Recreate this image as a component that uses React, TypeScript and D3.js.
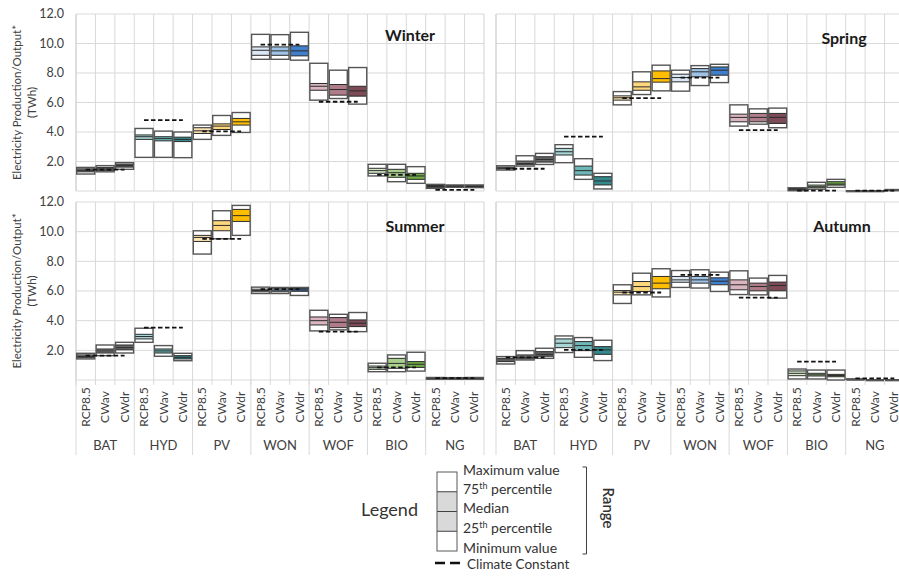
import React from 'react';
import * as d3 from 'd3';

const techs = ['BAT', 'HYD', 'PV', 'WON', 'WOF', 'BIO', 'NG'];
const scenarios = ['RCP8.5', 'CWav', 'CWdr'];
const yTicks = [0, 2, 4, 6, 8, 10, 12];

// each row: [min, 25th, median, 75th, max] in TWh, order tech x scenario
const winterStats = [
  [1.15, 1.3, 1.4, 1.5, 1.6], [1.3, 1.4, 1.5, 1.6, 1.72], [1.47, 1.62, 1.72, 1.82, 1.92],
  [2.28, 3.5, 3.68, 3.8, 4.24], [2.28, 3.4, 3.55, 3.68, 4.06], [2.26, 3.35, 3.5, 3.65, 4.0],
  [3.5, 3.9, 4.08, 4.29, 4.47], [3.77, 4.17, 4.4, 4.55, 5.12], [3.97, 4.47, 4.69, 4.92, 5.32],
  [8.93, 9.2, 9.54, 9.77, 10.62], [8.93, 9.2, 9.5, 9.77, 10.6], [8.87, 9.16, 9.5, 9.84, 10.76],
  [6.16, 6.83, 7.1, 7.29, 8.66], [6.27, 6.5, 6.88, 7.22, 8.19], [5.89, 6.43, 6.79, 7.1, 8.37],
  [1.02, 1.2, 1.38, 1.54, 1.81], [0.63, 0.93, 1.24, 1.47, 1.81], [0.52, 0.79, 1.02, 1.2, 1.65],
  [0.18, 0.25, 0.32, 0.38, 0.45], [0.25, 0.3, 0.33, 0.37, 0.41], [0.23, 0.28, 0.32, 0.36, 0.41],
];
const winterClimate = [1.45, 4.8, 4.04, 9.93, 6.05, 1.1, 0.07];

const springStats = [
  [1.42, 1.5, 1.55, 1.62, 1.71], [1.69, 1.78, 1.87, 2.03, 2.39], [1.8, 1.96, 2.14, 2.32, 2.55],
  [1.92, 2.44, 2.66, 2.89, 3.14], [0.79, 1.08, 1.38, 1.69, 2.19], [0.14, 0.41, 0.68, 0.97, 1.2],
  [5.84, 6.16, 6.32, 6.45, 6.74], [6.54, 6.83, 7.06, 7.4, 8.08], [6.79, 7.38, 7.62, 8.14, 8.53],
  [6.77, 7.4, 7.69, 7.92, 8.19], [7.15, 7.74, 8.08, 8.3, 8.5], [7.35, 7.85, 8.19, 8.41, 8.59],
  [4.4, 4.69, 4.99, 5.21, 5.84], [4.53, 4.69, 4.99, 5.26, 5.57], [4.29, 4.58, 4.99, 5.26, 5.62],
  [0.02, 0.08, 0.12, 0.17, 0.22], [0.12, 0.22, 0.29, 0.4, 0.59], [0.25, 0.4, 0.47, 0.63, 0.79],
  [0, 0, 0, 0, 0.01], [0, 0, 0, 0, 0.01], [0.02, 0.04, 0.06, 0.08, 0.1],
];
const springClimate = [1.51, 3.68, 6.29, 7.69, 4.13, 0.02, 0.02];

const summerStats = [
  [1.42, 1.5, 1.58, 1.69, 1.8], [1.64, 1.82, 1.96, 2.09, 2.36], [1.82, 2.03, 2.18, 2.36, 2.54],
  [2.54, 2.77, 2.93, 3.08, 3.49], [1.6, 1.82, 1.96, 2.09, 2.32], [1.3, 1.42, 1.53, 1.64, 1.8],
  [8.49, 9.34, 9.61, 9.75, 10.06], [9.52, 10.06, 10.42, 10.74, 11.41], [9.75, 10.69, 11.08, 11.5, 11.77],
  [5.83, 5.95, 6.03, 6.12, 6.26], [5.83, 5.95, 6.05, 6.15, 6.24], [5.7, 5.98, 6.07, 6.16, 6.24],
  [3.31, 3.71, 4.0, 4.25, 4.7], [3.38, 3.53, 3.89, 4.21, 4.43], [3.26, 3.6, 3.83, 4.05, 4.55],
  [0.56, 0.72, 0.83, 0.94, 1.13], [0.56, 0.79, 1.12, 1.46, 1.69], [0.6, 0.85, 1.06, 1.24, 1.87],
  [0.05, 0.1, 0.13, 0.15, 0.17], [0.05, 0.09, 0.12, 0.14, 0.16], [0.05, 0.1, 0.13, 0.15, 0.17],
];
const summerClimate = [1.64, 3.53, 9.52, 6.12, 3.26, 0.85, 0.12];

const autumnStats = [
  [1.08, 1.24, 1.35, 1.46, 1.58], [1.35, 1.42, 1.53, 1.69, 1.98], [1.46, 1.6, 1.73, 1.91, 2.14],
  [1.85, 2.18, 2.48, 2.77, 2.97], [1.53, 1.98, 2.32, 2.59, 2.86], [1.31, 1.73, 2.03, 2.25, 2.68],
  [5.16, 5.74, 5.92, 6.03, 6.42], [5.74, 5.97, 6.3, 6.64, 7.2], [5.6, 6.15, 6.53, 6.98, 7.5],
  [6.24, 6.59, 6.75, 6.98, 7.38], [6.2, 6.53, 6.75, 6.98, 7.43], [5.97, 6.42, 6.66, 6.89, 7.27],
  [5.76, 6.08, 6.42, 6.75, 7.36], [5.74, 6.01, 6.3, 6.53, 6.87], [5.52, 6.01, 6.37, 6.6, 7.05],
  [0.07, 0.29, 0.45, 0.61, 0.74], [0.07, 0.27, 0.35, 0.45, 0.67], [0.0, 0.22, 0.3, 0.38, 0.67],
  [0, 0.02, 0.04, 0.06, 0.07], [0, 0, 0, 0, 0.01], [0, 0, 0, 0, 0.01],
];
const autumnClimate = [1.53, 2.03, 5.9, 7.09, 5.56, 1.24, 0.11];

// fill per tech: RCP8.5, CWav, CWdr
const techColors: Record<string, string[]> = {
  BAT: ['#8a8a8a', '#7a7a7a', '#676767'],
  HYD: ['#a8d6d6', '#6db7b8', '#33898c'],
  PV: ['#fbe3b2', '#fdd67e', '#ffbd00'],
  WON: ['#dbe7f4', '#9ec3e7', '#3f7fcb'],
  WOF: ['#dab5bf', '#b07c8a', '#7c4b57'],
  BIO: ['#d6e8c8', '#a8d08c', '#6fac46'],
  NG: ['#3f3f3f', '#575757', '#2a2a2a'],
};

const font = "Lato, 'Open Sans', sans-serif";
const cols = techs.flatMap(t => scenarios.map(s => `${t}|${s}`));

const panels = [
  { name: 'Winter', stats: winterStats, climate: winterClimate, xr: [76, 484], yr: [191, 14], title: [410, 41], left: true, bottom: false },
  { name: 'Spring', stats: springStats, climate: springClimate, xr: [496, 904], yr: [191, 14], title: [844, 44], left: false, bottom: false },
  { name: 'Summer', stats: summerStats, climate: summerClimate, xr: [76, 484], yr: [380, 202], title: [415, 232], left: true, bottom: true },
  { name: 'Autumn', stats: autumnStats, climate: autumnClimate, xr: [496, 904], yr: [380, 202], title: [842, 232], left: false, bottom: true },
];

const Panel = ({ p }: { p: typeof panels[0] }) => {
  const x = d3.scaleBand().domain(cols).range(p.xr as [number, number]);
  const y = d3.scaleLinear().domain([0, 12]).range(p.yr as [number, number]);
  const bw = x.bandwidth();
  const y0 = p.yr[0];

  return (
    <g>
      {yTicks.map(t => (
        <line key={'h' + t} x1={p.xr[0]} x2={p.xr[1]} y1={y(t)} y2={y(t)} stroke="#d9d9d9" strokeWidth={1} />
      ))}
      {cols.map(c => (
        <line key={'v' + c} x1={x(c)} x2={x(c)} y1={p.yr[1]} y2={y0} stroke="#d9d9d9" strokeWidth={1} />
      ))}
      <line x1={p.xr[1]} x2={p.xr[1]} y1={p.yr[1]} y2={y0} stroke="#d0d0d0" />
      <line x1={p.xr[0]} x2={p.xr[0]} y1={p.yr[1]} y2={y0} stroke="#d0d0d0" />

      {p.stats.map((s, i) => {
        const c = cols[i];
        const tech = techs[Math.floor(i / 3)];
        const fill = techColors[tech][i % 3];
        const bx = (x(c) as number) + 0.7;
        const w = bw - 1.4;
        const [mn, q1, md, q3, mx] = s;
        return (
          <g key={'b' + c}>
            <rect x={bx} y={y(mx)} width={w} height={Math.max(y(mn) - y(mx), 0.8)} fill="#fff" />
            <rect x={bx} y={y(q3)} width={w} height={y(q1) - y(q3)} fill={fill} />
            {[q1, md, q3].map((v, k) => (
              <line key={k} x1={bx} x2={bx + w} y1={y(v)} y2={y(v)} stroke="#2b2b2b" strokeWidth={1} />
            ))}
            <rect x={bx} y={y(mx)} width={w} height={Math.max(y(mn) - y(mx), 0.8)} fill="none" stroke="#555" strokeWidth={1.4} />
          </g>
        );
      })}

      {p.climate.map((v, i) => {
        const t = techs[i];
        const xa = (x(`${t}|RCP8.5`) as number) + bw / 2;
        const xb = (x(`${t}|CWdr`) as number) + bw / 2;
        return (
          <line key={'c' + t} x1={xa} x2={xb} y1={y(v)} y2={y(v)} stroke="#111" strokeWidth={1.8} strokeDasharray="4.5,2.5" />
        );
      })}

      <text x={p.title[0]} y={p.title[1]} textAnchor="middle" fontFamily={font} fontWeight="bold" fontSize={16} fill="#1a1a1a">
        {p.name}
      </text>

      {p.left && yTicks.filter(t => t > 0).map(t => (
        <text key={'yl' + t} x={64} y={y(t)} dy="0.35em" textAnchor="end" fontFamily={font} fontSize={12.5} fill="#404040">
          {d3.format('.1f')(t)}
        </text>
      ))}

      {p.left && (
        <text transform={`translate(17,${(p.yr[0] + p.yr[1]) / 2}) rotate(-90)`} textAnchor="middle" fontFamily={font} fontSize={11.5} fill="#404040">
          <tspan x={0} dy="0.35em">Electricity Production/Output*</tspan>
          <tspan x={0} dy="15">(TWh)</tspan>
        </text>
      )}

      {p.bottom && (
        <g>
          {cols.map(c => (
            <line key={'mt' + c} x1={x(c)} x2={x(c)} y1={y0} y2={y0 + 5} stroke="#d9d9d9" />
          ))}
          {techs.map(t => (
            <line key={'gt' + t} x1={x(`${t}|RCP8.5`)} x2={x(`${t}|RCP8.5`)} y1={y0} y2={455} stroke="#d9d9d9" />
          ))}
          <line x1={p.xr[1]} x2={p.xr[1]} y1={y0} y2={455} stroke="#d9d9d9" />
          {cols.map(c => {
            const cx = (x(c) as number) + bw / 2;
            return (
              <text key={'xl' + c} transform={`translate(${cx},407) rotate(-90)`} textAnchor="middle" dy="0.35em" fontFamily={font} fontSize={12} fill="#404040">
                {c.split('|')[1]}
              </text>
            );
          })}
          {techs.map(t => {
            const cx = (x(`${t}|CWav`) as number) + bw / 2;
            return (
              <text key={'gl' + t} x={cx} y={450} textAnchor="middle" fontFamily={font} fontSize={13} fill="#404040">
                {t}
              </text>
            );
          })}
        </g>
      )}
    </g>
  );
};

const Legend = () => {
  const ly = d3.scaleLinear().domain([0, 4]).range([551, 472]);
  const bx = 437;
  const bwid = 20;
  const labels = [
    { main: 'Maximum value', sup: '', y: 474.5 },
    { main: '75', sup: 'th', rest: ' percentile', y: 493.5 },
    { main: 'Median', sup: '', y: 513 },
    { main: '25', sup: 'th', rest: ' percentile', y: 533 },
    { main: 'Minimum value', sup: '', y: 552.5 },
  ];
  return (
    <g fontFamily={font}>
      <text x={418} y={516} textAnchor="end" fontSize={18} fill="#333">Legend</text>
      <rect x={bx} y={ly(3)} width={bwid} height={ly(1) - ly(3)} fill="#d9d9d9" />
      {[1, 2, 3].map(k => (
        <line key={k} x1={bx} x2={bx + bwid} y1={ly(k)} y2={ly(k)} stroke="#404040" strokeWidth={1} />
      ))}
      <rect x={bx} y={ly(4)} width={bwid} height={ly(0) - ly(4)} fill="none" stroke="#595959" strokeWidth={1} />
      {labels.map((l, i) => (
        <text key={i} x={463} y={l.y} fontSize={14} fill="#333">
          {l.main}
          {l.sup && <tspan fontSize={9} dy={-5}>{l.sup}</tspan>}
          {l.rest && <tspan dy={5}>{l.rest}</tspan>}
        </text>
      ))}
      <path d="M582.5,467 H586.5 V554 H582.5" fill="none" stroke="#404040" strokeWidth={1} />
      <text transform="translate(603,508) rotate(90)" textAnchor="middle" fontSize={15} fontWeight={600} fill="#333">Range</text>
      <line x1={435} x2={462} y1={563} y2={563} stroke="#111" strokeWidth={2.5} strokeDasharray="10,5" />
      <text x={467} y={568.5} fontSize={13.5} fill="#333">Climate Constant</text>
    </g>
  );
};

export default function App() {
  return (
    <svg width={899} height={582} style={{ position: 'absolute', left: 0, top: 0, background: '#fff' }}>
      <rect width={899} height={582} fill="#fff" />
      {panels.map(p => <Panel key={p.name} p={p} />)}
      <Legend />
    </svg>
  );
}
